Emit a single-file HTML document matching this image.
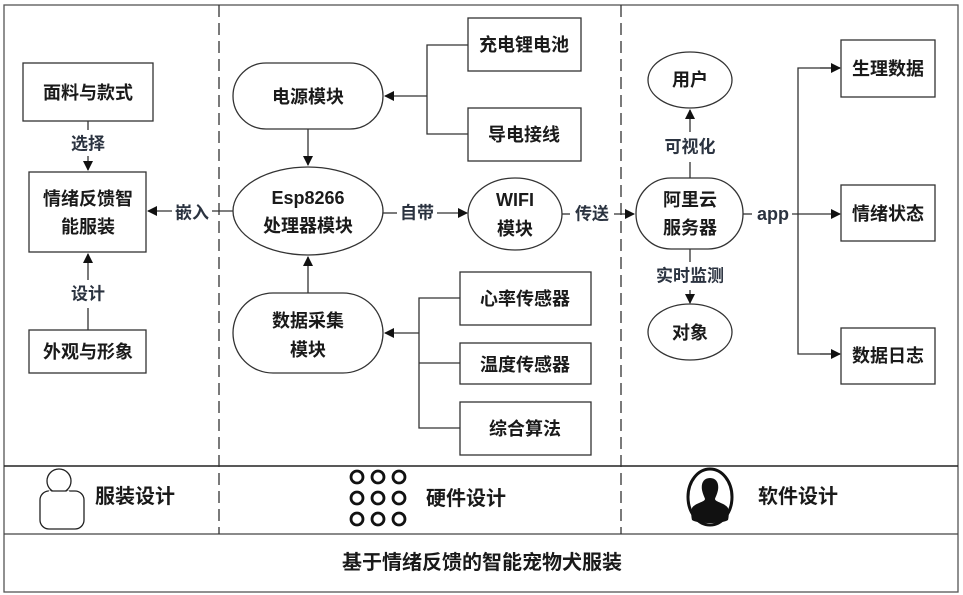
<!DOCTYPE html>
<html><head><meta charset="utf-8"><style>
html,body{margin:0;padding:0;background:#fff}
svg{display:block}
text{font-family:"Liberation Sans","Noto Sans CJK SC",sans-serif;font-weight:bold;fill:#1a1a1a;text-anchor:middle;dominant-baseline:central}
.l{font-size:17px;fill:#2b3340}
</style></head><body>
<svg width="963" height="595" viewBox="0 0 963 595" xmlns="http://www.w3.org/2000/svg">
<defs><marker id="a" markerWidth="10" markerHeight="10" refX="9" refY="5" orient="auto" markerUnits="userSpaceOnUse"><path d="M0,0 L10,5 L0,10 z" fill="#111"/></marker></defs>
<g fill="none" stroke="#333" stroke-width="1.3">
<rect x="4" y="5" width="954" height="587" stroke="#555"/>
<line x1="4" y1="466" x2="958" y2="466" stroke="#222" stroke-width="1.6"/>
<line x1="4" y1="534" x2="958" y2="534" stroke="#444"/>
<line x1="219" y1="5" x2="219" y2="534" stroke-dasharray="12,6" stroke="#333"/>
<line x1="621" y1="5" x2="621" y2="534" stroke-dasharray="12,6" stroke="#333"/>
<rect x="23" y="63" width="130" height="58"/>
<rect x="29" y="172" width="117" height="80"/>
<rect x="29" y="330" width="117" height="43"/>
<line x1="88" y1="121" x2="88" y2="130"/>
<line x1="88" y1="156" x2="88" y2="170" marker-end="url(#a)"/>
<line x1="88" y1="330" x2="88" y2="308"/>
<line x1="88" y1="280" x2="88" y2="254" marker-end="url(#a)"/>
<line x1="233" y1="211" x2="212" y2="211"/>
<line x1="172" y1="211" x2="148" y2="211" marker-end="url(#a)"/>
<rect x="233" y="63" width="150" height="66" rx="33"/>
<ellipse cx="308" cy="211" rx="75" ry="44"/>
<rect x="233" y="293" width="150" height="80" rx="40"/>
<rect x="468" y="18" width="113" height="53"/>
<rect x="468" y="108" width="113" height="53"/>
<polyline points="468,45 427,45 427,134 468,134"/>
<line x1="427" y1="96" x2="385" y2="96" marker-end="url(#a)"/>
<line x1="308" y1="129" x2="308" y2="165" marker-end="url(#a)"/>
<line x1="308" y1="293" x2="308" y2="257" marker-end="url(#a)"/>
<rect x="460" y="272" width="131" height="53"/>
<rect x="460" y="343" width="131" height="41"/>
<rect x="460" y="402" width="131" height="53"/>
<polyline points="460,298 419,298 419,428 460,428"/>
<line x1="419" y1="363" x2="460" y2="363"/>
<line x1="419" y1="333" x2="385" y2="333" marker-end="url(#a)"/>
<ellipse cx="515" cy="214" rx="47" ry="36"/>
<line x1="383" y1="213" x2="397" y2="213"/>
<line x1="437" y1="213" x2="467" y2="213" marker-end="url(#a)"/>
<line x1="562" y1="214" x2="570" y2="214"/>
<line x1="614" y1="214" x2="634" y2="214" marker-end="url(#a)"/>
<ellipse cx="690" cy="80" rx="42" ry="28"/>
<rect x="636" y="178" width="107" height="71" rx="35"/>
<ellipse cx="690" cy="332" rx="42" ry="28"/>
<line x1="690" y1="178" x2="690" y2="162"/>
<line x1="690" y1="132" x2="690" y2="110" marker-end="url(#a)"/>
<line x1="690" y1="249" x2="690" y2="262"/>
<line x1="690" y1="290" x2="690" y2="303" marker-end="url(#a)"/>
<line x1="743" y1="214" x2="752" y2="214"/>
<polyline points="840,68 798,68 798,354 840,354" stroke="#333"/>
<line x1="792" y1="214" x2="840" y2="214" marker-end="url(#a)"/>
<line x1="820" y1="68" x2="840" y2="68" marker-end="url(#a)"/>
<line x1="820" y1="354" x2="840" y2="354" marker-end="url(#a)"/>
<rect x="841" y="40" width="94" height="57"/>
<rect x="841" y="185" width="94" height="56"/>
<rect x="841" y="328" width="94" height="56"/>
<circle cx="59" cy="481" r="12" stroke="#222"/>
<rect x="40" y="491" width="44" height="38" rx="9" stroke="#222" fill="#fff"/>
<path d="M49,491 Q59,499 69,491" stroke="#fff" stroke-width="2"/>
<g stroke="#111" stroke-width="2.8">
<circle cx="357" cy="477" r="6"/><circle cx="378" cy="477" r="6"/><circle cx="399" cy="477" r="6"/>
<circle cx="357" cy="498" r="6"/><circle cx="378" cy="498" r="6"/><circle cx="399" cy="498" r="6"/>
<circle cx="357" cy="519" r="6"/><circle cx="378" cy="519" r="6"/><circle cx="399" cy="519" r="6"/>
</g>
<ellipse cx="710" cy="497" rx="22" ry="28" stroke="#111" stroke-width="3"/>
</g>
<path d="M710,478 c-7,0 -9,6 -8,12 c1,5 3,8 3,9 c0,3 -10,4 -13,9 c-1,3 -1,8 0,12 c6,4 30,4 36,0 c1,-4 1,-9 0,-12 c-3,-5 -13,-6 -13,-9 c0,-1 2,-4 3,-9 c1,-6 -1,-12 -8,-12z" fill="#111"/>
<g style="font-size:18px">
<text x="88" y="93">面料与款式</text>
<text x="88" y="199">情绪反馈智</text>
<text x="88" y="227">能服装</text>
<text x="88" y="352">外观与形象</text>
<text x="308" y="97">电源模块</text>
<text x="308" y="198">Esp8266</text>
<text x="308" y="226">处理器模块</text>
<text x="308" y="321">数据采集</text>
<text x="308" y="350">模块</text>
<text x="524" y="45">充电锂电池</text>
<text x="524" y="135">导电接线</text>
<text x="525" y="299">心率传感器</text>
<text x="525" y="365">温度传感器</text>
<text x="525" y="429">综合算法</text>
<text x="515" y="200">WIFI</text>
<text x="515" y="229">模块</text>
<text x="690" y="80">用户</text>
<text x="690" y="200">阿里云</text>
<text x="690" y="228">服务器</text>
<text x="690" y="333">对象</text>
<text x="888" y="69">生理数据</text>
<text x="888" y="214">情绪状态</text>
<text x="888" y="356">数据日志</text>
</g>
<text class="l" x="88" y="144">选择</text>
<text class="l" x="88" y="294">设计</text>
<text class="l" x="192" y="213">嵌入</text>
<text class="l" x="417" y="213">自带</text>
<text class="l" x="592" y="214">传送</text>
<text class="l" x="690" y="147">可视化</text>
<text class="l" x="690" y="276">实时监测</text>
<text class="l" x="773" y="214" style="font-size:18px">app</text>
<g style="font-size:20px">
<text x="135" y="497">服装设计</text>
<text x="466" y="499">硬件设计</text>
<text x="798" y="497">软件设计</text>
<text x="482" y="563">基于情绪反馈的智能宠物犬服装</text>
</g>
</svg>
</body></html>
